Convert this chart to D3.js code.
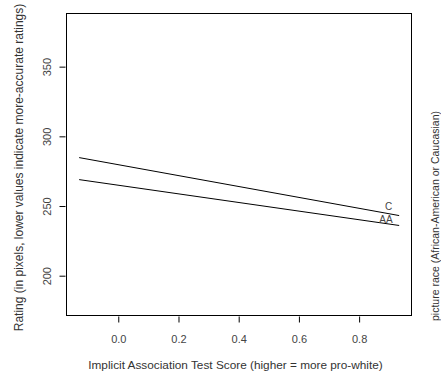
<!DOCTYPE html>
<html><head><meta charset="utf-8">
<script src="https://cdn.jsdelivr.net/npm/d3@7/dist/d3.min.js"></script>
<style>body{margin:0;background:#fff}svg{display:block}text{font-family:"Liberation Sans",Arial,sans-serif}</style>
</head><body><svg id="c" width="441" height="381"></svg>
<script>
const xTicks = [0.0, 0.2, 0.4, 0.6, 0.8];
const yTicks = [200, 250, 300, 350];
const iatScores = [-0.13, 0.933];
const ratingC = [285.1, 243.5];
const ratingAA = [269.3, 236.4];
const seriesNames = ["C", "AA"];

const svg = d3.select("#c");
const L = 66.5, R = 411.5, T = 13.5, B = 315.5;
const x = d3.scaleLinear().domain([-0.172, 0.974]).range([L, R]);
const y = d3.scaleLinear().domain([171.8, 388.5]).range([B, T]);

svg.append("rect").attr("x", L).attr("y", T).attr("width", R - L).attr("height", B - T)
  .attr("fill", "none").attr("stroke", "#000").attr("stroke-width", 1);

// x axis
const gx = svg.append("g").attr("transform", `translate(0,${B + 1})`)
  .call(d3.axisBottom(x).tickValues(xTicks).tickFormat(d3.format(".1f")).tickSize(6).tickPadding(13));
gx.select(".domain").remove();
gx.selectAll("line").attr("stroke", "#000");
gx.selectAll("text").attr("fill", "#444").style("font-size", "11px");

// y axis
const gy = svg.append("g").attr("transform", `translate(${L - 1},0)`)
  .call(d3.axisLeft(y).tickValues(yTicks).tickSize(6).tickPadding(0));
gy.select(".domain").remove();
gy.selectAll("line").attr("stroke", "#000");
gy.selectAll("text").attr("fill", "#444").style("font-size", "11px")
  .attr("text-anchor", "middle").attr("dy", null)
  .attr("transform", d => `translate(-19,${y(d)}) rotate(-90)`).attr("x", 0).attr("y", 0)
  .attr("dominant-baseline", "central");
gy.selectAll(".tick").attr("transform", null);
gy.selectAll(".tick line").attr("transform", d => `translate(0,${y(d)})`);

const line = d3.line().x((d, i) => x(iatScores[i])).y(d => y(d));
[ratingC, ratingAA].forEach(s => {
  svg.append("path").attr("d", line(s)).attr("fill", "none").attr("stroke", "#000").attr("stroke-width", 1);
});

svg.append("text").attr("x", x(0.898)).attr("y", y(247.2)).attr("text-anchor", "middle")
  .attr("fill", "#444").style("font-size", "10px").text(seriesNames[0]);
svg.append("text").attr("x", x(0.889)).attr("y", y(238.5)).attr("text-anchor", "middle")
  .attr("fill", "#444").style("font-size", "10px").text(seriesNames[1]);

svg.append("text").attr("x", 235.5).attr("y", 369).attr("text-anchor", "middle")
  .attr("fill", "#333").style("font-size", "11.8px")
  .text("Implicit Association Test Score (higher = more pro-white)");
svg.append("text").attr("transform", "translate(23,167.5) rotate(-90)").attr("text-anchor", "middle")
  .attr("fill", "#333").style("font-size", "12px")
  .text("Rating (in pixels, lower values indicate more-accurate ratings)");
svg.append("text").attr("transform", "translate(439,216) rotate(-90)").attr("text-anchor", "middle")
  .attr("fill", "#333").style("font-size", "10.5px")
  .text("picture race (African-American or Caucasian)");
</script></body></html>
